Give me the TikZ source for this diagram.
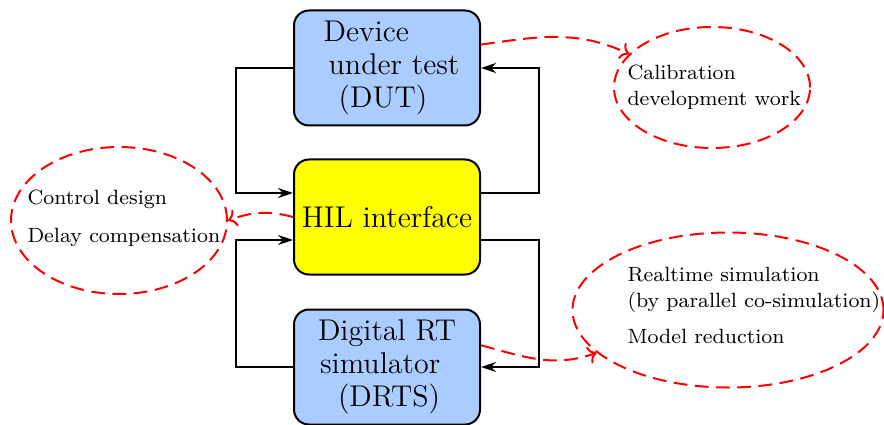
\documentclass[tikz,border=0pt]{standalone}
\usetikzlibrary{shapes.geometric,arrows.meta}
\definecolor{boxblue}{RGB}{170,204,255}
\definecolor{boxyellow}{RGB}{255,255,0}
\begin{document}
\begin{tikzpicture}[x=0.4pt,y=0.4pt,
 box/.style={draw,line width=0.8pt,rounded corners=6pt,minimum width=74.4pt,minimum height=46pt,inner sep=0pt,align=left,font=\fontsize{12}{13.2}\selectfont},
 conn/.style={line width=0.8pt,-{Stealth[length=6pt,width=4pt]}},
 cloud/.style={draw=red,line width=0.8pt,dash pattern=on 5.5pt off 3pt,ellipse,inner sep=0pt},
 link/.style={red,line width=0.8pt,dash pattern=on 5.5pt off 3pt,->},
 note/.style={inner sep=0pt,align=left,anchor=north west,font=\fontsize{8.25}{10.4}\selectfont}]
\useasboundingbox (0,0) rectangle (884,-425);

\node[box,fill=boxblue] (DUT) at (387,-68) {\hspace*{3.6pt}Device\\\hspace*{5.6pt}under test\\\hspace*{9.6pt}(DUT)};
\node[box,fill=boxyellow] (HIL) at (387,-217) {HIL interface};
\node[box,fill=boxblue] (DRTS) at (387,-367) {Digital RT\\\hspace*{0.8pt}simulator\\\hspace*{8pt}(DRTS)};

\node[cloud,minimum width=78.4pt,minimum height=48.4pt] (cal) at (712,-87.5) {};
\node[cloud,minimum width=86.4pt,minimum height=58.8pt] (ctl) at (119,-220.5) {};
\node[cloud,minimum width=124.4pt,minimum height=62pt] (rt) at (728,-310) {};

\node[note] (calt) at (627,-64) {Calibration\\development work};
\node[note] (ctlt) at (27,-189) {Control design\\[4.8pt]Delay compensation};
\node[note] (rtt) at (627,-267) {Realtime simulation\\(by parallel co-simulation)\\[4pt]Model reduction};

\draw[conn] (DUT.west) -- ++(-57,0) |- ([yshift=9.6pt]HIL.west);
\draw[conn] (DRTS.west) -- ++(-57,0) |- ([yshift=-9.2pt]HIL.west);
\draw[conn] ([yshift=9.6pt]HIL.east) -- ++(58,0) |- (DUT.east);
\draw[conn] ([yshift=-9.2pt]HIL.east) -- ++(58,0) |- (DRTS.east);

\draw[link] (DUT.14.5) to[out=8,in=155] (cal.158);
\draw[link] (HIL.west) to[out=165,in=20] (ctl.east);
\draw[link] (DRTS.13.3) to[out=-15,in=200] (rt.198);
\end{tikzpicture}
\end{document}
